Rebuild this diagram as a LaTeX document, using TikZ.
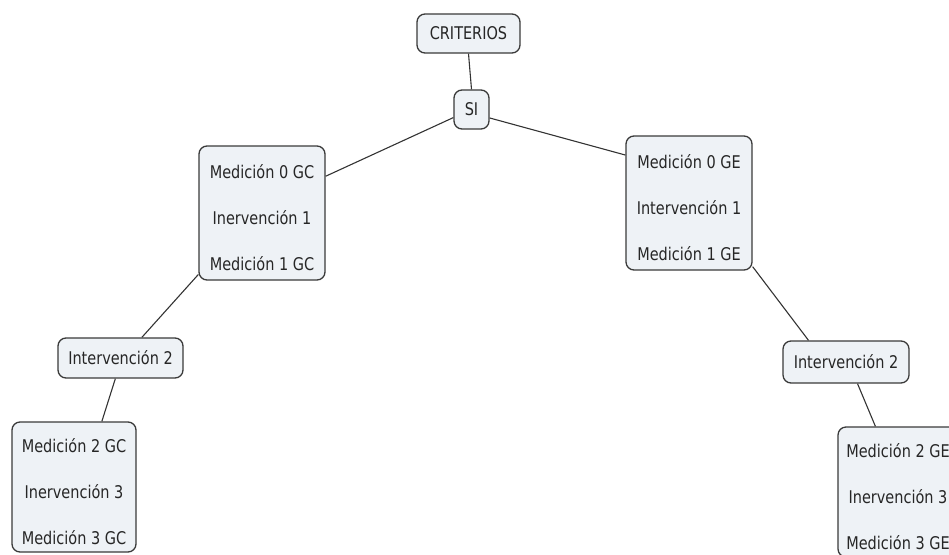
\documentclass[tikz,border=0pt]{standalone}
\usepackage{fontspec}
\setmainfont{DejaVu Sans Condensed}[FakeStretch=0.92]
\definecolor{boxfill}{HTML}{EEF2F6}
\definecolor{boxline}{HTML}{3A3A3A}
\newcommand{\tp}{\rule{0pt}{23pt}}
\tikzset{
  cbox/.style={draw=boxline, fill=boxfill, line width=1.3pt, rounded corners=8pt,
    font=\fontsize{17.5}{46}\selectfont, align=center, inner sep=0pt, text=black!85},
  conn/.style={draw=black!80, line width=1.1pt}
}
\begin{document}
\begin{tikzpicture}[x=1pt,y=-1pt]
\useasboundingbox (0,0) rectangle (949,554);
\clip (0,0) rectangle (949,554);
\node[cbox, minimum width=103pt, minimum height=39pt] (crit) at (468.5,33.5) {CRITERIOS};
\node[cbox, minimum width=35pt, minimum height=39pt] (si) at (471.5,109.5) {SI};
\node[cbox, minimum width=126pt, minimum height=134pt] (lb) at (262,213) {\tp Medición 0 GC\\Inervención 1\\Medición 1 GC};
\node[cbox, minimum width=126pt, minimum height=134pt] (rb) at (689,203) {\tp Medición 0 GE\\Intervención 1\\Medición 1 GE};
\node[cbox, minimum width=125pt, minimum height=40pt] (li) at (120.5,358) {Intervención 2};
\node[cbox, minimum width=126pt, minimum height=42pt] (ri) at (846,362) {Intervención 2};
\node[cbox, minimum width=124pt, minimum height=130pt] (lbb) at (74,487) {\tp Medición 2 GC\\Inervención 3\\Medición 3 GC};
\node[cbox, minimum width=120pt, minimum height=130pt] (rbb) at (898,492) {\tp Medición 2 GE\\Inervención 3\\Medición 3 GE};
\draw[conn] (crit.south) -- (si.north);
\draw[conn] (si.204) -- (lb.30);
\draw[conn] (si.-25) -- (rb.143);
\draw[conn] (lb.224) -- (li.44);
\draw[conn] (li.256) -- (lbb.67);
\draw[conn] (rb.-45) -- (ri.150);
\draw[conn] (ri.-62) -- (rbb.109);
\end{tikzpicture}
\end{document}
